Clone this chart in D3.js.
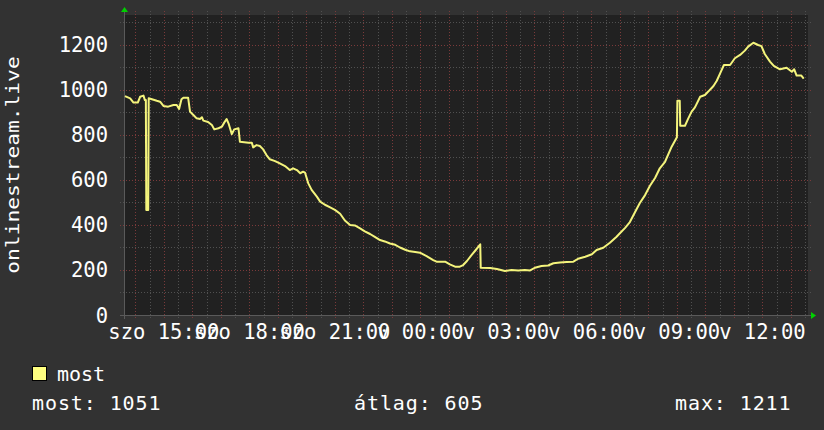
<!DOCTYPE html>
<html>
<head>
<meta charset="utf-8">
<script src="https://cdn.jsdelivr.net/npm/d3@7"></script>
<style>
  body { margin: 0; background: #323232; }
  svg { display: block; }
  text { font-family: "DejaVu Sans Mono", monospace; fill: #fff; }
</style>
</head>
<body>
<div id="chart"></div>
<script>
// minutes after the start of the window (szo 13:36)
var startClock = 13 * 60 + 36;
var times = [2, 13, 20, 29, 34, 41, 44, 46, 47, 51, 52, 69, 76, 83, 93, 104, 111, 116, 121, 125, 135, 139,
  146, 153, 160, 164, 167, 177, 185, 190, 199, 206, 211, 216, 220, 227, 232, 241, 244, 262, 269, 272,
  279, 286, 293, 300, 307, 318, 328, 339, 349, 356, 364, 371, 377, 381, 388, 395, 406, 413, 423, 434,
  444, 455, 465, 476, 486, 497, 507, 518, 528, 539, 549, 560, 571, 581, 592, 602, 613, 623, 637, 651,
  658, 676, 686, 697, 707, 714, 722, 732, 741, 750, 751, 771, 785, 802, 816, 830, 844, 855, 865, 879,
  893, 904, 918, 932, 946, 956, 971, 985, 995, 1009, 1023, 1037, 1044, 1055, 1065, 1076, 1086, 1097, 1107, 1118,
  1128, 1139, 1153, 1164, 1165, 1170, 1171, 1181, 1188, 1195, 1202, 1213, 1223, 1230, 1241, 1248, 1255, 1263, 1276, 1286, 1297,
  1307, 1314, 1325, 1335, 1342, 1349, 1360, 1368, 1381, 1395, 1406, 1411, 1416, 1426, 1431];
var values = [973, 963, 944, 944, 970, 975, 955, 955, 467, 467, 963, 952, 948, 929, 926, 933, 933, 916, 959, 966, 966, 904,
  889, 874, 871, 879, 864, 858, 844, 825, 830, 837, 855, 871, 852, 804, 825, 830, 770, 766, 766, 745,
  755, 751, 736, 711, 692, 684, 674, 662, 644, 652, 644, 630, 637, 633, 585, 556, 526, 504, 490, 478,
  467, 450, 420, 400, 398, 385, 372, 360, 347, 333, 327, 318, 312, 300, 290, 283, 280, 277, 262, 244,
  237, 237, 225, 215, 215, 222, 240, 267, 290, 314, 210, 209, 204, 196, 200, 198, 200, 198, 210, 218,
  220, 230, 233, 236, 237, 250, 259, 270, 289, 299, 321, 348, 363, 387, 413, 458, 498, 533, 573, 609,
  652, 681, 748, 790, 952, 952, 841, 841, 874, 904, 923, 970, 978, 993, 1018, 1041, 1074, 1111, 1111, 1141, 1156,
  1175, 1193, 1210, 1200, 1195, 1160, 1126, 1107, 1092, 1099, 1081, 1092, 1064, 1064, 1051];

var yTicks = [0, 200, 400, 600, 800, 1000, 1200];
var xTickHours = [15, 18, 21, 24, 27, 30, 33, 36];
var xTickLabels = ['szo 15:00', 'szo 18:00', 'szo 21:00', 'v 00:00', 'v 03:00', 'v 06:00', 'v 09:00', 'v 12:00'];
var yTitle = 'onlinestream.live';
var legendName = 'most';
var statNames = ['most', 'átlag', 'max'];
var statValues = [1051, 605, 1211];

var width = 824, height = 430,
  margin = { left: 124, right: 16, top: 15, bottom: 115 };
var plotW = width - margin.left - margin.right,
  plotH = height - margin.top - margin.bottom;
var lineColor = '#f4f47c';

var svg = d3.select('#chart').append('svg')
  .attr('width', width)
  .attr('height', height);

svg.append('rect').attr('width', width).attr('height', height).attr('fill', '#323232');

var x = d3.scaleLinear().domain([0, 1440]).range([margin.left, margin.left + plotW]);
var y = d3.scaleLinear().domain([0, 1333.33]).range([margin.top + plotH, margin.top]);

svg.append('rect')
  .attr('x', margin.left).attr('y', margin.top)
  .attr('width', plotW).attr('height', plotH)
  .attr('fill', '#212121');

// grid
var grid = svg.append('g').attr('class', 'grid');
var minorX = d3.range(14 * 60 + 30, 38 * 60, 60).map(function(c) { return c - startClock; });
var majorX = d3.range(14 * 60, 38 * 60, 60).map(function(c) { return c - startClock; });
var minorY = d3.range(100, 1400, 200);
var majorY = d3.range(200, 1400, 200);

function vlines(data, color) {
  grid.append('g').selectAll('line').data(data.filter(function(d) { return d > 0 && d < 1440; }))
    .enter().append('line')
    .attr('x1', function(d) { return Math.round(x(d)) + 0.5; })
    .attr('x2', function(d) { return Math.round(x(d)) + 0.5; })
    .attr('y1', margin.top - 4).attr('y2', margin.top + plotH + 3)
    .attr('stroke', color).attr('stroke-dasharray', '1,2');
}
function hlines(data, color) {
  grid.append('g').selectAll('line').data(data)
    .enter().append('line')
    .attr('y1', function(d) { return Math.round(y(d)) + 0.5; })
    .attr('y2', function(d) { return Math.round(y(d)) + 0.5; })
    .attr('x1', margin.left - 4).attr('x2', margin.left + plotW + 3)
    .attr('stroke', color).attr('stroke-dasharray', '1,2');
}
vlines(minorX, '#505050');
vlines(majorX, '#7a3a3a');
hlines(minorY, '#505050');
hlines(majorY, '#7a3a3a');

// axes
svg.append('line')
  .attr('x1', margin.left - 4).attr('x2', margin.left + plotW + 4)
  .attr('y1', margin.top + plotH + 0.5).attr('y2', margin.top + plotH + 0.5)
  .attr('stroke', '#5a5a5a');
svg.append('line')
  .attr('x1', margin.left + 0.5).attr('x2', margin.left + 0.5)
  .attr('y1', margin.top + plotH + 4).attr('y2', margin.top - 4)
  .attr('stroke', '#5a5a5a');
svg.append('path')
  .attr('d', 'M' + (margin.left - 3) + ',' + (margin.top - 3) + 'L' + (margin.left + 0.5) + ',' + (margin.top - 8) + 'L' + (margin.left + 4) + ',' + (margin.top - 3) + 'Z')
  .attr('fill', '#00d000');
svg.append('path')
  .attr('d', 'M' + (margin.left + plotW + 3) + ',' + (margin.top + plotH - 3) + 'L' + (margin.left + plotW + 8) + ',' + (margin.top + plotH + 0.5) + 'L' + (margin.left + plotW + 3) + ',' + (margin.top + plotH + 4) + 'Z')
  .attr('fill', '#00d000');

// line
var line = d3.line()
  .x(function(d, i) { return x(times[i]); })
  .y(function(d) { return y(d); });
svg.append('path')
  .datum(values)
  .attr('d', line)
  .attr('fill', 'none')
  .attr('stroke', lineColor)
  .attr('stroke-width', 2)
  .attr('stroke-linejoin', 'round');

// tick labels
svg.append('g').selectAll('text').data(yTicks)
  .enter().append('text')
  .attr('x', 108)
  .attr('y', function(d) { return y(d) + 7.5; })
  .attr('text-anchor', 'end')
  .style('font-size', '20.5px')
  .text(function(d) { return d; });

svg.append('g').selectAll('text').data(xTickHours)
  .enter().append('text')
  .attr('x', function(d) { return x(d * 60 - startClock); })
  .attr('y', 338.5)
  .attr('text-anchor', 'middle')
  .style('font-size', '20.5px')
  .text(function(d, i) { return xTickLabels[i]; });

svg.append('text')
  .attr('transform', 'translate(19,165) rotate(-90) scale(1.25,1)')
  .attr('text-anchor', 'middle')
  .style('font-size', '17px')
  .text(yTitle);

// legend
svg.append('rect')
  .attr('x', 32.5).attr('y', 366.5).attr('width', 14).attr('height', 14)
  .attr('fill', '#ffff80').attr('stroke', '#000');
svg.append('text')
  .attr('x', 57).attr('y', 381)
  .style('font-size', '20px')
  .text(legendName);

var statX = [32, 354, 675];
svg.append('g').selectAll('text').data(statNames)
  .enter().append('text')
  .attr('x', function(d, i) { return statX[i]; })
  .attr('y', 409.5)
  .style('font-size', '20px')
  .style('letter-spacing', '0.9px')
  .text(function(d, i) { return d + ': ' + statValues[i]; });
</script>
</body>
</html>
